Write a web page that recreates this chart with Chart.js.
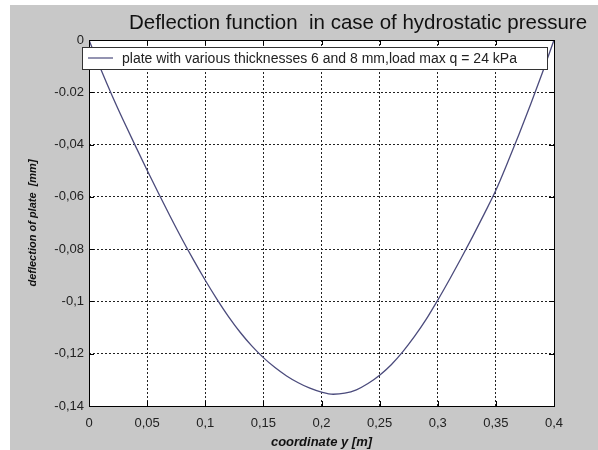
<!DOCTYPE html>
<html>
<head>
<meta charset="utf-8">
<script src="https://cdn.jsdelivr.net/npm/chart.js@4.4.1/dist/chart.umd.min.js"></script>
<style>
  html, body { margin: 0; padding: 0; background: #fff; }
  #frame { position: absolute; left: 10px; top: 5px; width: 588px; height: 445px; background: #c8c8c8; }
  canvas { display: block; }
</style>
</head>
<body>
<div id="frame"><canvas id="deflChart" width="588" height="445"></canvas></div>
<script>
// coordinate y [m]
const coordY = [0, 0.01, 0.02, 0.03, 0.04, 0.05, 0.06, 0.07, 0.08, 0.09, 0.10,
  0.11, 0.12, 0.13, 0.14, 0.15, 0.16, 0.17, 0.18, 0.19, 0.20,
  0.21, 0.22, 0.23, 0.24, 0.25, 0.26, 0.27, 0.28, 0.29, 0.30,
  0.31, 0.32, 0.33, 0.34, 0.35, 0.36, 0.37, 0.38, 0.39, 0.40];

// deflection of plate [mm]
const deflection = [0, -0.0110, -0.0214, -0.0312, -0.0406, -0.0498, -0.0588, -0.0676, -0.0761, -0.0842, -0.0919,
  -0.0991, -0.1058, -0.1118, -0.1170, -0.1215, -0.1253, -0.1285, -0.1311, -0.1332, -0.1347,
  -0.1355, -0.1351, -0.1338, -0.1314, -0.1282, -0.1242, -0.1192, -0.1134, -0.1069, -0.0995,
  -0.0917, -0.0836, -0.0752, -0.0665, -0.0575, -0.0470, -0.0360, -0.0245, -0.0125, 0];

const xTickLabels = ['0', '0,05', '0,1', '0,15', '0,2', '0,25', '0,3', '0,35', '0,4'];
const yTickLabels = ['0', '-0.02', '-0,04', '-0,06', '-0,08', '-0,1', '-0,12', '-0,14'];

const seriesLabel = 'plate with various thicknesses 6 and 8 mm,load max q = 24 kPa';
const chartTitle = 'Deflection function  in case of hydrostatic pressure';

const FONT = "'Liberation Sans', Arial, sans-serif";
const LINE_COLOR = '#4b4b7c';

// white plot box, full border, inward ticks, title and legend
const matlabLook = {
  id: 'matlabLook',
  beforeDraw(chart) {
    const { ctx, chartArea: a } = chart;
    ctx.save();
    ctx.fillStyle = '#fff';
    ctx.fillRect(a.left, a.top, a.right - a.left, a.bottom - a.top);
    ctx.restore();
  },
  afterDatasetsDraw(chart) {
    const { ctx, chartArea: a, scales } = chart;
    ctx.save();
    ctx.strokeStyle = '#000';
    ctx.lineWidth = 1;
    ctx.strokeRect(a.left + 0.5, a.top + 0.5, a.right - a.left, a.bottom - a.top);

    ctx.beginPath();
    scales.x.ticks.forEach((t) => {
      const px = Math.round(scales.x.getPixelForValue(t.value)) + 0.5;
      ctx.moveTo(px, a.top); ctx.lineTo(px, a.top + 5);
      ctx.moveTo(px, a.bottom); ctx.lineTo(px, a.bottom - 5);
    });
    scales.y.ticks.forEach((t) => {
      const py = Math.round(scales.y.getPixelForValue(t.value)) + 0.5;
      ctx.moveTo(a.left, py); ctx.lineTo(a.left + 5, py);
      ctx.moveTo(a.right, py); ctx.lineTo(a.right - 5, py);
    });
    ctx.stroke();

    // legend box
    const lx = 72, ly = 42, lw = 465, lh = 22;
    ctx.fillStyle = '#fff';
    ctx.fillRect(lx, ly, lw, lh);
    ctx.strokeStyle = '#333';
    ctx.strokeRect(lx + 0.5, ly + 0.5, lw, lh);
    ctx.strokeStyle = LINE_COLOR;
    ctx.lineWidth = 1.2;
    ctx.beginPath();
    ctx.moveTo(lx + 6, ly + lh / 2);
    ctx.lineTo(lx + 31, ly + lh / 2);
    ctx.stroke();
    ctx.fillStyle = '#222';
    ctx.font = '14px ' + FONT;
    ctx.textBaseline = 'middle';
    ctx.textAlign = 'left';
    ctx.fillText(chart.data.datasets[0].label, lx + 40, ly + lh / 2 + 1);

    // title
    ctx.font = '20.5px ' + FONT;
    ctx.fillStyle = '#111';
    ctx.textAlign = 'center';
    ctx.fillText(chartTitle, 348, 18);
    ctx.restore();
  }
};

const ctx = document.getElementById('deflChart').getContext('2d');

new Chart(ctx, {
  type: 'line',
  data: {
    datasets: [{
      label: seriesLabel,
      data: coordY.map((x, i) => ({ x: x, y: deflection[i] })),
      borderColor: LINE_COLOR,
      borderWidth: 1.3,
      pointRadius: 0,
      cubicInterpolationMode: 'monotone',
      fill: false
    }]
  },
  options: {
    responsive: false,
    animation: false,
    devicePixelRatio: 1,
    layout: { padding: { top: 35, right: 44, left: 0, bottom: 0 } },
    plugins: {
      legend: { display: false },
      tooltip: { enabled: false },
      title: { display: false }
    },
    scales: {
      x: {
        type: 'linear',
        min: 0,
        max: 0.4,
        afterFit(scale) { scale.height = 44; },
        ticks: {
          stepSize: 0.05,
          padding: 10,
          color: '#222',
          font: { family: FONT, size: 13 },
          maxRotation: 0,
          callback: (value, index) => xTickLabels[index]
        },
        grid: { color: '#222', drawTicks: false, lineWidth: 1 },
        border: { display: false, dash: [2, 2] },
        title: {
          display: true,
          text: 'coordinate y [m]',
          color: '#111',
          font: { family: FONT, size: 13, weight: 'bold', style: 'italic' },
          padding: { top: 0, bottom: 0 }
        }
      },
      y: {
        min: -0.14,
        max: 0,
        afterFit(scale) { scale.width = 79; },
        ticks: {
          stepSize: 0.02,
          padding: 5,
          color: '#222',
          font: { family: FONT, size: 13 },
          callback: (value) => yTickLabels[Math.round(-value / 0.02)]
        },
        grid: { color: '#222', drawTicks: false, lineWidth: 1 },
        border: { display: false, dash: [2, 2] },
        title: {
          display: true,
          text: 'deflection of plate  [mm]',
          color: '#111',
          font: { family: FONT, size: 11, weight: 'bold', style: 'italic' },
          padding: { top: 16, bottom: 0 }
        }
      }
    }
  },
  plugins: [matlabLook]
});
</script>
</body>
</html>
